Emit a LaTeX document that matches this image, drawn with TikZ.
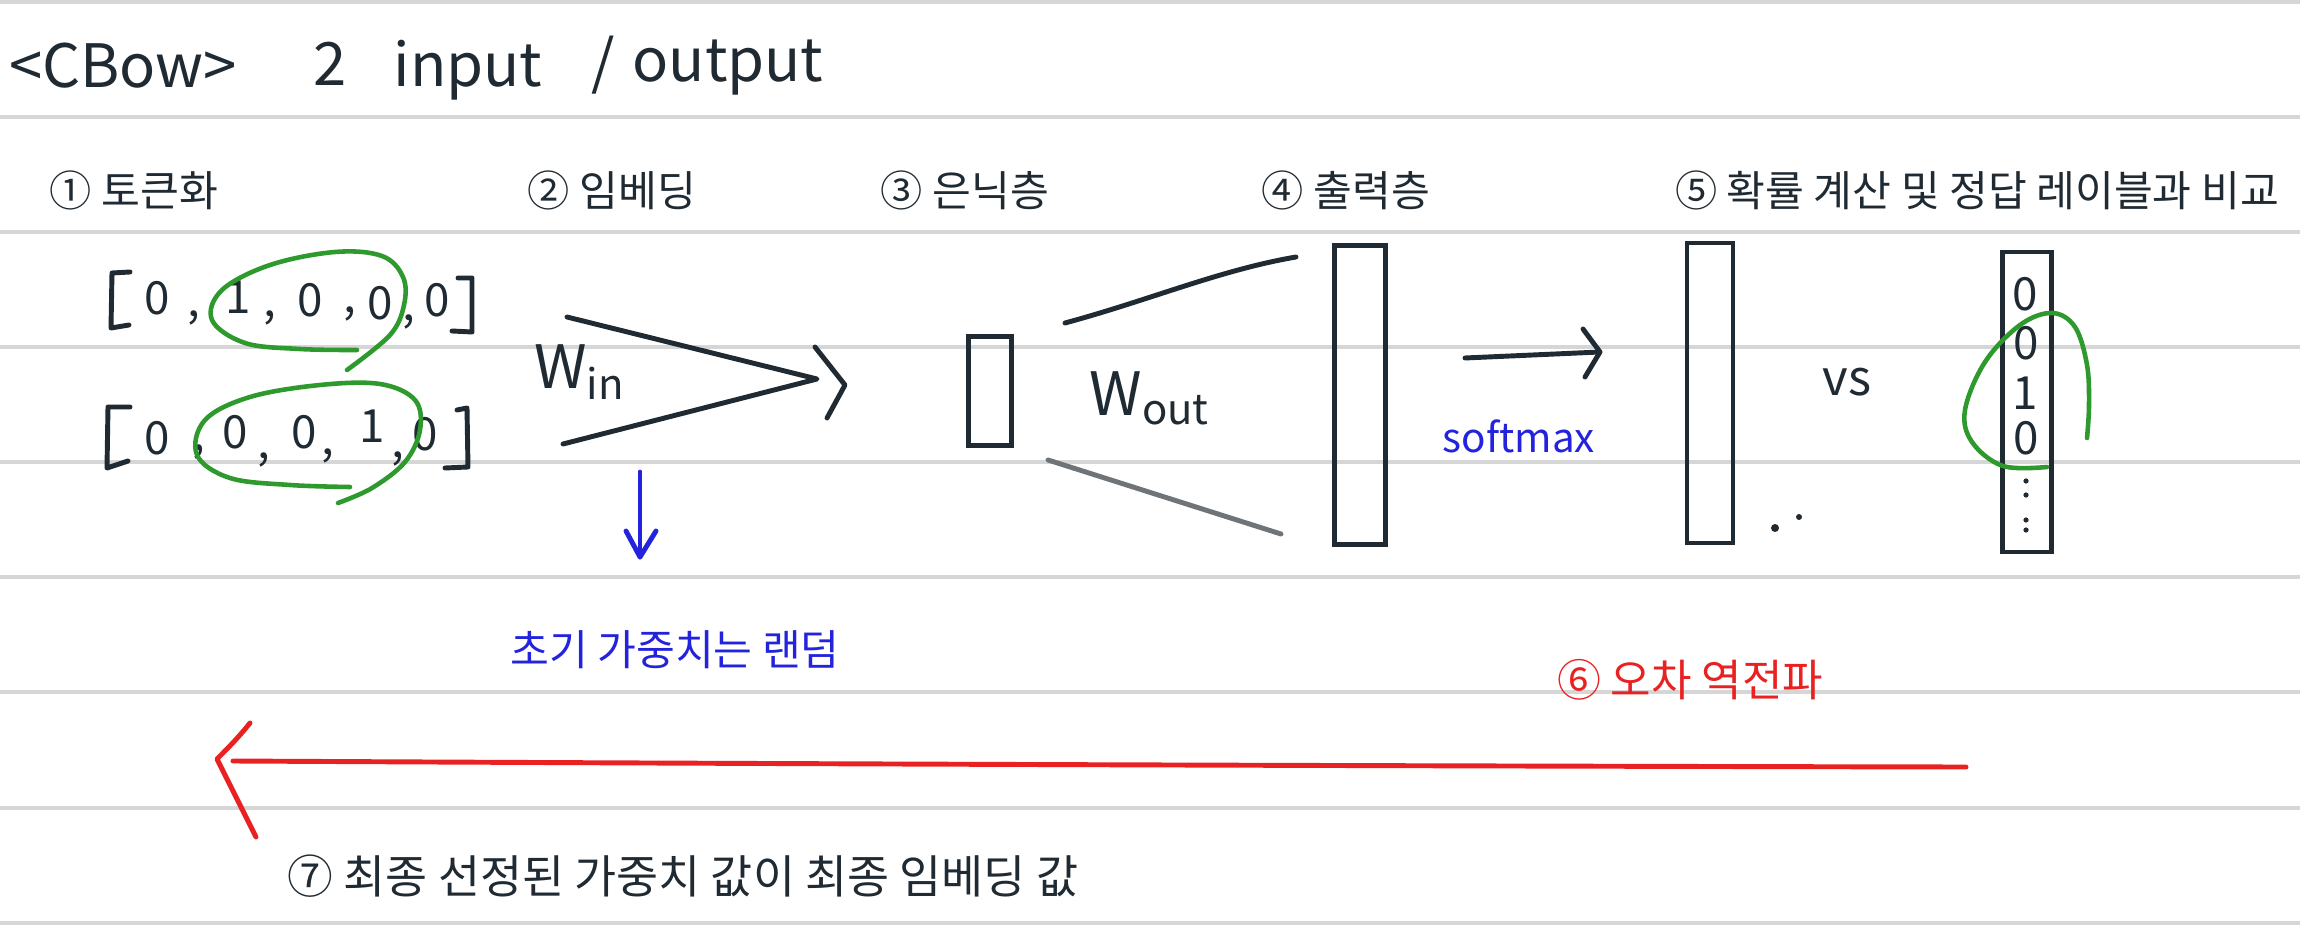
\documentclass[tikz,border=0pt]{standalone}
\usepackage{fontspec}
\setmainfont{Noto Sans CJK KR}
\definecolor{inkc}{HTML}{1F2A32}
\definecolor{rulec}{HTML}{D6D6D6}
\definecolor{bluec}{HTML}{2323DD}
\definecolor{greenc}{HTML}{2E9A2E}
\definecolor{redc}{HTML}{E82222}
\definecolor{grayink}{HTML}{6E7478}
\tikzset{
  ink/.style={draw=inkc, line width=1.4pt, line cap=round, line join=round},
  rule/.style={draw=rulec, line width=1.2pt},
  loop/.style={draw=greenc, line width=1.3pt, line cap=round},
  txt/.style={text=inkc, inner sep=0pt, font=\fontsize{12pt}{14pt}\selectfont},
  ttl/.style={text=inkc, inner sep=0pt, font=\fontsize{17pt}{20pt}\selectfont},
  dig/.style={text=inkc, inner sep=0pt, font=\fontsize{13pt}{15pt}\selectfont},
  bar/.style={draw=inkc, line width=1.2pt, inner sep=0pt, rectangle},
}
\begin{document}
\begin{tikzpicture}[x=0.01cm,y=-0.01cm]
\useasboundingbox (0,0) rectangle (2300,940);
\fill[white] (0,0) rectangle (2300,940);
% ruled lines
\foreach \yy in {2,117,232,347,462,577,692,808,923}
  \draw[rule] (0,\yy) -- (2300,\yy);

% title
\node[ttl] (t1) at (123,66) {<CBow>};
\node[ttl] (t2) at (330,64) {2};
\node[ttl] (t3) at (468,70) {input};
\node[ttl] (t4) at (603,65) {/};
\node[ttl] (t5) at (728,68) {output};

% step labels
\node[txt] (s1) at (134,190) {① 토큰화};
\node[txt] (s2) at (612,190) {② 임베딩};
\node[txt] (s3) at (965,190) {③ 은닉층};
\node[txt] (s4) at (1346,190) {④ 출력층};
\node[txt] (s5) at (1977,190) {⑤ 확률 계산 및 정답 레이블과 비교};

% input vectors row 1
\draw[ink] (130,272) -- (112,273) -- (111,328) -- (129,325);
\draw[ink] (458,278) -- (472,278) -- (472,332) -- (452,331);
\node[dig] (a1) at (157,298) {0};
\node[dig] (a2) at (238,297) {1};
\node[dig] (a3) at (310,300) {0};
\node[dig] (a4) at (380,303) {0};
\node[dig] (a5) at (437,300) {0};
\node[dig] (c1) at (194,318) {,};
\node[dig] (c2) at (270,318) {,};
\node[dig] (c3) at (350,314) {,};
\node[dig] (c4) at (409,322) {,};
% row 2
\draw[ink] (130,407) -- (108,407) -- (107,468) -- (128,461);
\draw[ink] (457,410) -- (467,408) -- (468,467) -- (445,468);
\node[dig] (b1) at (157,438) {0};
\node[dig] (b2) at (235,432) {0};
\node[dig] (b3) at (304,432) {0};
\node[dig] (b4) at (372,426) {1};
\node[dig] (b5) at (425,434) {0};
\node[dig] (d1) at (199,452) {,};
\node[dig] (d2) at (264,460) {,};
\node[dig] (d3) at (328,456) {,};
\node[dig] (d4) at (398,459) {,};

% green loops on inputs
\draw[loop] plot[smooth, tension=0.6] coordinates {(357,350) (300,349) (245,343) (212,320) (222,290) (270,265) (335,252) (382,256) (403,277) (404,305) (390,335) (347,370)};
\draw[loop] plot[smooth, tension=0.6] coordinates {(350,487) (290,485) (230,478) (197,455) (205,420) (250,397) (320,385) (380,384) (415,400) (420,430) (405,462) (372,488) (338,503)};

% W_in
\coordinate (wtop) at (567,317);
\coordinate (wbot) at (563,444);
\coordinate (wtip) at (817,379);
\draw[ink] (wtop) -- (wtip) -- (wbot);
\coordinate (ch1) at (815,347);
\coordinate (ch2) at (845,385);
\coordinate (ch3) at (827,418);
\draw[ink] (ch1) -- (ch2) -- (ch3);
\node[ttl] (win) at (580,372) {W\textsubscript{in}};

% blue arrow and note
\coordinate (ba1) at (640,472);
\coordinate (ba2) at (640,557);
\draw[draw=bluec, line width=1.4pt, line cap=round] (ba1) -- (ba2);
\draw[draw=bluec, line width=1.4pt, line cap=round, line join=round] (626,531) -- (ba2) -- (656,531);
\node[txt, text=bluec] (init) at (675,650) {초기 가중치는 랜덤};

% hidden layer
\node[bar, minimum width=0.43cm, minimum height=1.09cm] (h) at (990,391) {};
% W_out
\coordinate (wo1) at (1065,323);
\coordinate (wo2) at (1296,257);
\coordinate (wo3) at (1048,460);
\coordinate (wo4) at (1281,534);
\draw[ink] (wo1) .. controls (1150,300) and (1220,270) .. (wo2);
\draw[draw=grayink, line width=1.4pt, line cap=round] (wo3) -- (wo4);
\node[ttl] (wout) at (1150,398) {W\textsubscript{out}};
% output layer
\node[bar, minimum width=0.51cm, minimum height=2.99cm] (o) at (1360,395) {};

% softmax arrow
\coordinate (sa1) at (1465,358);
\coordinate (sa2) at (1600,352);
\draw[ink] (sa1) -- (sa2);
\draw[ink] (1583,329) -- (sa2) -- (1585,377);
\node[txt, text=bluec, font=\fontsize{11.5pt}{13pt}\selectfont] (sm) at (1519,436) {softmax};

% probability vector
\node[bar, minimum width=0.46cm, minimum height=3.00cm] (p) at (1710,393) {};
\fill[inkc] (1775,528) circle (4);
\fill[inkc] (1799,517) circle (3);
\node[txt, font=\fontsize{14pt}{16pt}\selectfont] (vs) at (1847,382) {vs};

% label vector
\node[bar, minimum width=0.49cm, minimum height=3.00cm] (l) at (2027,402) {};
\node[dig] (l1) at (2025,294) {0};
\node[dig] (l2) at (2026,343) {0};
\node[dig] (l3) at (2025,393) {1};
\node[dig] (l4) at (2026,438) {0};
\foreach \yy in {481,495,520,530} \fill[inkc] (2026,\yy) circle (2.6);
\draw[loop] plot[smooth, tension=0.6] coordinates {(2047,467) (2003,466) (1972,442) (1965,410) (1985,362) (2020,325) (2052,313) (2075,327) (2087,365) (2089,405) (2087,438)};

% red back-propagation arrow
\coordinate (r1) at (1966,767);
\coordinate (r2) at (233,761);
\coordinate (rtip) at (217,759);
\draw[draw=redc, line width=1.4pt, line cap=round] (r1) .. controls (1400,766) and (800,764) .. (r2);
\draw[draw=redc, line width=1.4pt, line cap=round, line join=round] (250,723) .. controls (238,738) and (228,748) .. (rtip) -- (256,837);
\node[txt, text=redc, font=\fontsize{12.5pt}{14pt}\selectfont] (bp) at (1690,680) {⑥ 오차 역전파};

% final note
\node[txt, font=\fontsize{13pt}{15pt}\selectfont] (fin) at (683,876) {⑦ 최종 선정된 가중치 값이 최종 임베딩 값};
\end{tikzpicture}
\end{document}
